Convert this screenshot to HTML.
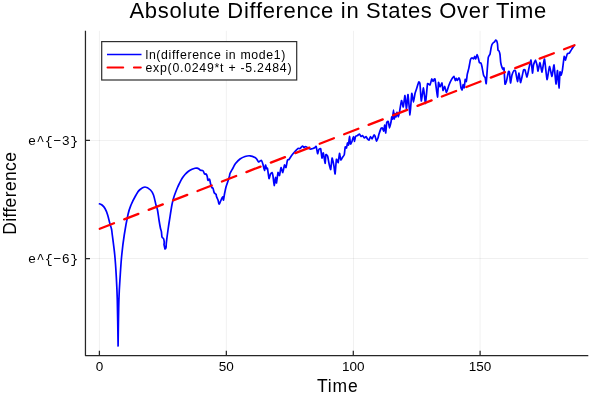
<!DOCTYPE html>
<html><head><meta charset="utf-8"><style>
html,body{margin:0;padding:0;background:#fff;width:600px;height:400px;overflow:hidden}
svg{display:block;will-change:transform}
text{font-family:"Liberation Sans",sans-serif;fill:#000}
.mono{font-family:"Liberation Mono",monospace}
</style></head><body>
<svg width="600" height="400" viewBox="0 0 600 400">
<rect width="600" height="400" fill="#fff"/>
<g stroke="#000" stroke-opacity="0.1" stroke-width="0.6">
<line x1="99.4" y1="30.8" x2="99.4" y2="355.4"/>
<line x1="226.35" y1="30.8" x2="226.35" y2="355.4"/>
<line x1="353.45" y1="30.8" x2="353.45" y2="355.4"/>
<line x1="480.1" y1="30.8" x2="480.1" y2="355.4"/>
<line x1="85.4" y1="140.47" x2="588.3" y2="140.47"/>
<line x1="85.4" y1="258.5" x2="588.3" y2="258.5"/>
</g>
<g stroke="#262626" stroke-width="1.25" fill="none" stroke-linejoin="round">
<path d="M85.45 30.8V355.5H588.3"/>
<path d="M99.4 355.5V350.7M226.35 355.5V350.7M353.3 355.5V350.7M480.1 355.5V350.7M85.45 140.47H90M85.45 258.5H90"/>
</g>
<text x="129.5" y="18" font-size="22" letter-spacing="0.68">Absolute Difference in States Over Time</text>
<g font-size="13.5" text-anchor="middle">
<text x="99.4" y="371.1">0</text>
<text x="226.35" y="371.1">50</text>
<text x="353.3" y="371.1">100</text>
<text x="480.1" y="371.1">150</text>
</g>
<g class="mono" font-size="13.3">
<text class="mono" x="28" y="145" letter-spacing="0.45">e^{−3}</text>
<text class="mono" x="28" y="263" letter-spacing="0.45">e^{−6}</text>
</g>
<text x="317" y="391.8" font-size="17.5" letter-spacing="0.8">Time</text>
<text transform="translate(16.25 193.25) rotate(-90)" font-size="17.5" letter-spacing="0.35" text-anchor="middle">Difference</text>
<path id="blue" d="M99.50 203.80C99.92 204.00 101.08 204.22 102.00 205.00C102.92 205.78 104.08 206.92 105.00 208.50C105.92 210.08 106.67 211.92 107.50 214.50C108.33 217.08 109.33 221.58 110.00 224.00C110.67 226.42 111.12 227.17 111.50 229.00C111.88 230.83 111.76 230.67 112.30 235.00C112.84 239.33 114.10 248.33 114.75 255.00C115.40 261.67 115.78 267.50 116.20 275.00C116.62 282.50 116.98 288.17 117.30 300.00C117.62 311.83 118.10 346.00 118.10 346.00C118.10 346.00 118.54 311.83 118.90 300.00C119.26 288.17 119.78 282.50 120.25 275.00C120.72 267.50 121.08 261.67 121.75 255.00C122.42 248.33 123.21 241.75 124.25 235.00C125.29 228.25 126.88 219.50 128.00 214.50C129.12 209.50 129.67 208.25 131.00 205.00C132.33 201.75 134.58 197.50 136.00 195.00C137.42 192.50 138.00 191.33 139.50 190.00C141.00 188.67 143.17 187.00 145.00 187.00C146.83 187.00 149.08 188.67 150.50 190.00C151.92 191.33 152.58 192.50 153.50 195.00C154.42 197.50 155.33 202.50 156.00 205.00C156.67 207.50 157.00 207.50 157.50 210.00C158.00 212.50 158.52 217.00 159.00 220.00C159.48 223.00 160.00 226.07 160.40 228.00C160.80 229.93 161.13 230.10 161.40 231.60C161.67 233.10 161.65 235.85 162.00 237.00C162.35 238.15 163.13 237.67 163.50 238.50C163.87 239.33 164.12 241.00 164.20 242.00C164.28 243.00 164.00 244.50 164.00 244.50C164.00 244.50 165.00 249.00 165.00 249.00C165.00 249.00 165.77 248.60 166.00 247.50C166.23 246.40 166.07 245.32 166.40 242.40C166.73 239.48 167.48 233.73 168.00 230.00C168.52 226.27 168.83 224.25 169.50 220.00C170.17 215.75 171.29 208.25 172.00 204.50C172.71 200.75 173.17 199.50 173.75 197.50C174.33 195.50 174.88 194.17 175.50 192.50C176.12 190.83 176.92 188.88 177.50 187.50C178.08 186.12 178.25 185.75 179.00 184.25C179.75 182.75 181.00 180.12 182.00 178.50C183.00 176.88 183.92 175.71 185.00 174.50C186.08 173.29 187.33 172.12 188.50 171.25C189.67 170.38 190.92 169.75 192.00 169.25C193.08 168.75 194.17 168.43 195.00 168.25C195.83 168.07 196.33 168.07 197.00 168.20C197.67 168.32 198.42 168.66 199.00 169.00C199.58 169.34 199.83 169.96 200.50 170.25C201.17 170.54 202.33 170.12 203.00 170.75C203.67 171.38 204.00 173.46 204.50 174.00C205.00 174.54 205.54 173.58 206.00 174.00C206.46 174.42 206.93 175.45 207.25 176.50C207.57 177.55 207.53 179.84 207.90 180.30C208.28 180.76 209.03 178.55 209.50 179.25C209.97 179.95 210.33 183.08 210.75 184.50C211.17 185.92 211.62 187.12 212.00 187.75C212.38 188.38 212.62 187.42 213.00 188.25C213.38 189.08 213.75 191.76 214.25 192.75C214.75 193.74 215.62 193.57 216.00 194.20C216.38 194.82 216.17 195.53 216.50 196.50C216.83 197.47 217.58 198.75 218.00 200.00C218.42 201.25 218.67 203.58 219.00 204.00C219.33 204.42 219.50 203.50 220.00 202.50C220.50 201.50 221.50 198.92 222.00 198.00C222.50 197.08 222.75 196.67 223.00 197.00C223.25 197.33 223.25 200.50 223.50 200.00C223.75 199.50 224.08 196.17 224.50 194.00C224.92 191.83 225.42 189.17 226.00 187.00C226.58 184.83 227.42 182.83 228.00 181.00C228.58 179.17 229.17 177.25 229.50 176.00C229.83 174.75 229.42 174.83 230.00 173.50C230.58 172.17 232.08 169.67 233.00 168.00C233.92 166.33 234.33 165.00 235.50 163.50C236.67 162.00 238.42 160.17 240.00 159.00C241.58 157.83 243.33 157.03 245.00 156.50C246.67 155.97 248.33 155.63 250.00 155.80C251.67 155.97 253.83 156.88 255.00 157.50C256.17 158.12 256.42 158.75 257.00 159.50C257.58 160.25 258.00 161.75 258.50 162.00C258.74 162.12 259.76 161.12 260.00 161.00C260.24 160.88 261.26 160.22 261.50 160.50C261.74 160.78 262.76 163.70 263.00 164.50C263.24 165.30 264.30 170.46 264.50 170.50C264.70 170.54 265.34 165.16 265.50 165.00C265.66 164.84 266.34 168.22 266.50 168.50C266.66 168.78 267.30 167.70 267.50 168.50C267.70 169.30 268.76 178.06 269.00 178.50C269.24 178.94 270.26 174.48 270.50 174.00C270.74 173.52 271.80 172.34 272.00 172.50C272.20 172.66 272.82 174.96 273.00 176.00C273.18 177.04 274.00 185.38 274.20 185.50C274.40 185.62 275.32 177.70 275.50 177.50C275.68 177.30 276.30 183.40 276.50 183.00C276.70 182.60 277.76 173.10 278.00 172.50C278.24 171.90 279.26 175.90 279.50 175.50C279.74 175.10 280.74 167.74 281.00 167.50C281.26 167.26 282.52 172.70 282.80 172.50C283.08 172.30 284.24 165.40 284.50 165.00C284.76 164.60 285.76 167.90 286.00 167.50C286.24 167.10 287.26 160.64 287.50 160.00C287.74 159.36 288.80 159.66 289.00 159.50C289.20 159.34 289.76 158.36 290.00 158.00C290.24 157.64 291.64 155.48 292.00 155.00C292.36 154.52 294.02 152.52 294.50 152.00C294.98 151.48 297.56 148.78 298.00 148.50C298.44 148.22 299.64 148.70 300.00 148.50C300.36 148.30 302.18 146.08 302.50 146.00C302.82 145.92 303.76 147.46 304.00 147.50C304.24 147.54 305.22 146.50 305.50 146.50C305.78 146.50 307.14 147.30 307.50 147.50C307.86 147.70 309.56 148.92 310.00 149.00C310.44 149.08 312.60 148.62 313.00 148.50C313.40 148.38 314.74 147.66 315.00 147.50C315.26 147.34 315.99 146.00 316.20 146.50C316.41 147.00 317.38 153.47 317.60 153.70C317.82 153.93 318.65 149.78 318.90 149.40C319.15 149.02 320.45 148.20 320.70 148.90C320.95 149.60 321.79 157.78 322.00 158.10C322.21 158.42 323.05 152.48 323.30 152.90C323.55 153.32 324.89 163.26 325.10 163.40C325.31 163.54 325.69 155.16 325.90 154.60C326.11 154.04 327.45 155.70 327.70 156.40C327.95 157.10 328.76 162.35 329.00 163.40C329.24 164.45 330.45 169.92 330.70 169.50C330.95 169.08 331.85 158.45 332.10 158.10C332.35 157.75 333.56 163.84 333.80 165.10C334.04 166.36 334.89 174.36 335.10 173.90C335.31 173.44 336.15 160.31 336.40 159.40C336.65 158.49 337.95 162.99 338.20 162.50C338.45 162.01 339.29 153.51 339.50 153.30C339.71 153.09 340.55 159.59 340.80 159.90C341.05 160.21 342.32 157.62 342.60 157.20C342.88 156.78 344.09 155.42 344.30 154.60C344.51 153.78 345.02 147.53 345.20 147.00C345.38 146.47 346.32 148.32 346.50 148.00C346.68 147.68 347.34 143.24 347.50 143.00C347.66 142.76 348.34 145.52 348.50 145.00C348.66 144.48 349.34 136.58 349.50 136.50C349.66 136.42 350.30 143.60 350.50 144.00C350.70 144.40 351.76 142.10 352.00 141.50C352.24 140.90 353.30 136.50 353.50 136.50C353.70 136.50 354.34 141.50 354.50 141.50C354.66 141.50 355.26 136.98 355.50 136.50C355.74 136.02 357.18 135.70 357.50 135.50C357.82 135.30 359.22 133.92 359.50 134.00C359.78 134.08 360.76 136.38 361.00 136.50C361.24 136.62 362.22 135.38 362.50 135.50C362.78 135.62 364.22 137.92 364.50 138.00C364.78 138.08 365.76 136.42 366.00 136.50C366.24 136.58 367.26 138.72 367.50 139.00C367.74 139.28 368.76 140.20 369.00 140.00C369.24 139.80 370.26 136.58 370.50 136.50C370.74 136.42 371.72 139.12 372.00 139.00C372.28 138.88 373.76 135.24 374.00 135.00C374.24 134.76 374.80 135.52 375.00 136.00C375.20 136.48 376.26 140.84 376.50 141.00C376.74 141.16 377.80 138.56 378.00 138.00C378.20 137.44 378.76 134.76 379.00 134.00C379.24 133.24 380.74 128.98 381.00 128.50C381.26 128.02 382.03 127.80 382.25 128.00C382.47 128.20 383.55 131.24 383.75 131.00C383.95 130.76 384.59 124.84 384.75 125.00C384.91 125.16 385.59 133.20 385.75 133.00C385.91 132.80 386.55 123.42 386.75 122.50C386.95 121.58 388.03 121.06 388.25 121.50C388.47 121.94 389.28 127.96 389.50 128.00C389.72 128.04 390.82 122.88 391.00 122.00C391.18 121.12 391.63 117.24 391.75 117.00C391.87 116.76 392.36 119.56 392.50 119.00C392.64 118.44 393.36 110.00 393.50 110.00C393.64 110.00 394.13 118.72 394.25 119.00C394.37 119.28 394.86 113.66 395.00 113.50C395.14 113.34 395.84 117.12 396.00 117.00C396.16 116.88 396.82 112.00 397.00 112.00C397.18 112.00 398.05 117.00 398.25 117.00C398.45 117.00 399.24 113.32 399.50 112.00C399.76 110.68 401.20 100.90 401.50 100.50C401.80 100.10 402.97 107.40 403.25 107.00C403.53 106.60 404.74 95.34 405.00 95.50C405.26 95.66 406.26 109.08 406.50 109.00C406.74 108.92 407.72 94.02 408.00 94.50C408.28 94.98 409.70 115.08 410.00 115.00C410.30 114.92 411.47 94.54 411.75 93.50C412.03 92.46 413.24 102.00 413.50 102.00C413.76 102.00 414.76 94.54 415.00 93.50C415.24 92.46 416.20 89.92 416.50 89.00C416.80 88.08 418.47 82.40 418.75 82.00C419.03 81.60 419.80 82.48 420.00 84.00C420.20 85.52 420.97 100.68 421.25 101.00C421.53 101.32 423.16 87.80 423.50 88.00C423.84 88.20 425.18 103.82 425.50 103.50C425.82 103.18 427.14 85.48 427.50 84.00C427.86 82.52 429.66 85.40 430.00 85.00C430.34 84.60 431.51 79.28 431.75 79.00C431.99 78.72 432.74 81.50 433.00 81.50C433.26 81.50 434.64 77.76 435.00 79.00C435.36 80.24 437.22 96.72 437.50 97.00C437.78 97.28 438.30 83.30 438.50 82.50C438.70 81.70 439.72 86.96 440.00 87.00C440.28 87.04 441.76 82.72 442.00 83.00C442.24 83.28 442.78 90.22 443.00 90.50C443.22 90.78 444.47 86.34 444.75 86.50C445.03 86.66 446.16 92.62 446.50 92.50C446.84 92.38 448.59 86.05 449.00 85.00C449.41 83.95 451.20 80.10 451.60 79.40C452.00 78.70 453.70 76.21 454.00 76.30C454.30 76.39 455.12 80.33 455.30 80.50C455.48 80.67 456.13 78.40 456.30 78.40C456.47 78.40 457.19 80.55 457.40 80.50C457.61 80.45 458.69 77.80 458.90 77.80C459.11 77.80 459.83 79.70 460.00 80.50C460.17 81.30 460.83 87.05 461.00 87.80C461.17 88.55 461.93 90.15 462.10 89.90C462.27 89.65 462.93 84.87 463.10 84.70C463.27 84.53 464.03 88.22 464.20 87.80C464.37 87.38 465.03 79.90 465.20 79.40C465.37 78.90 466.13 81.92 466.30 81.50C466.47 81.08 467.09 75.29 467.30 74.20C467.51 73.11 468.64 69.08 468.90 67.90C469.16 66.72 470.24 60.30 470.50 59.50C470.76 58.70 471.85 57.95 472.10 57.90C472.35 57.85 473.39 59.03 473.60 58.90C473.81 58.77 474.53 56.30 474.70 56.30C474.87 56.30 475.51 59.03 475.70 58.90C475.89 58.77 476.88 54.74 477.10 54.70C477.32 54.66 478.22 57.77 478.40 58.40C478.58 59.03 479.19 62.22 479.40 62.60C479.61 62.98 480.79 62.76 481.00 63.10C481.21 63.44 481.79 65.83 482.00 66.80C482.21 67.77 483.34 74.32 483.60 75.20C483.86 76.08 484.99 77.13 485.20 77.80C485.41 78.47 486.03 84.31 486.20 83.60C486.37 82.89 487.13 71.00 487.30 68.90C487.47 66.80 488.08 58.58 488.30 57.40C488.52 56.22 489.78 54.91 490.00 54.20C490.22 53.49 490.84 49.28 491.00 48.50C491.16 47.72 491.80 44.98 492.00 44.50C492.20 44.02 493.30 42.70 493.50 42.50C493.70 42.30 494.32 42.20 494.50 42.00C494.68 41.80 495.57 40.08 495.75 40.00C495.93 39.92 496.61 40.68 496.75 41.00C496.89 41.32 497.40 43.28 497.50 44.00C497.60 44.72 497.88 49.44 498.00 50.00C498.12 50.56 498.84 50.64 499.00 51.00C499.16 51.36 499.86 53.59 500.00 54.50C500.14 55.41 500.54 61.37 500.70 62.40C500.86 63.43 501.80 66.84 502.00 67.40C502.20 67.96 503.04 69.34 503.20 69.40C503.36 69.46 503.86 67.03 504.00 68.20C504.14 69.37 504.80 82.98 505.00 84.00C505.20 85.02 506.22 82.00 506.50 81.00C506.78 80.00 508.26 72.18 508.50 71.50C508.74 70.82 509.34 71.58 509.50 72.50C509.66 73.42 510.30 82.80 510.50 83.00C510.70 83.20 511.72 76.00 512.00 75.00C512.28 74.00 513.72 70.82 514.00 70.50C514.28 70.18 515.22 70.12 515.50 71.00C515.78 71.88 517.22 81.34 517.50 81.50C517.78 81.66 518.76 72.92 519.00 73.00C519.24 73.08 520.26 82.18 520.50 82.50C520.74 82.82 521.76 78.00 522.00 77.00C522.24 76.00 523.26 70.56 523.50 70.00C523.74 69.44 524.72 69.44 525.00 70.00C525.28 70.56 526.68 77.16 527.00 77.00C527.32 76.84 528.68 69.36 529.00 68.00C529.32 66.64 530.72 59.60 531.00 60.00C531.28 60.40 532.30 72.60 532.50 73.00C532.70 73.40 533.26 66.04 533.50 65.00C533.74 63.96 535.22 60.00 535.50 60.00C535.78 60.00 536.80 64.12 537.00 65.00C537.20 65.88 537.76 71.20 538.00 71.00C538.24 70.80 539.68 62.42 540.00 62.50C540.32 62.58 541.64 72.28 542.00 72.00C542.36 71.72 544.10 58.40 544.50 59.00C544.90 59.60 546.60 78.90 547.00 79.50C547.40 80.10 549.10 66.74 549.50 66.50C549.90 66.26 551.64 76.62 552.00 76.50C552.36 76.38 553.68 64.40 554.00 65.00C554.32 65.60 555.72 83.56 556.00 84.00C556.28 84.44 557.26 70.18 557.50 70.50C557.74 70.82 558.80 87.88 559.00 88.00C559.20 88.12 559.83 73.03 560.00 72.00C560.17 70.97 560.90 75.29 561.10 75.10C561.30 74.91 562.25 71.09 562.50 69.60C562.75 68.11 563.96 57.27 564.20 56.50C564.44 55.73 565.25 60.22 565.50 60.00C565.75 59.78 566.99 54.35 567.30 53.80C567.61 53.25 569.06 53.44 569.40 53.10C569.74 52.76 571.12 50.21 571.50 49.60C571.88 48.99 573.98 45.83 574.20 45.50" stroke="#00f" stroke-width="1.7" fill="none" stroke-linejoin="round" stroke-linecap="round"/>
<path id="red" d="M99.4 228.9L574.5 45.2" stroke="#f00" stroke-width="2.3" stroke-linecap="round" stroke-dasharray="15.2 11" stroke-dashoffset="-0.4" fill="none"/>
<g>
<rect x="101.7" y="41.6" width="195" height="38.4" fill="#fff" stroke="#2e2e2e" stroke-width="1.2"/>
<line x1="107" y1="54.6" x2="141.5" y2="54.6" stroke="#00f" stroke-width="1.5"/>
<path d="M107.5 67.6H123.2M133.9 67.6H140.8" stroke="#f00" stroke-width="2" stroke-linecap="round"/>
<text x="145.5" y="58.7" font-size="12.3" letter-spacing="0.65">ln(difference in mode1)</text>
<text x="145.5" y="71.6" font-size="12.3" letter-spacing="0.75">exp(0.0249*t + -5.2484)</text>
</g>
</svg>
</body></html>
